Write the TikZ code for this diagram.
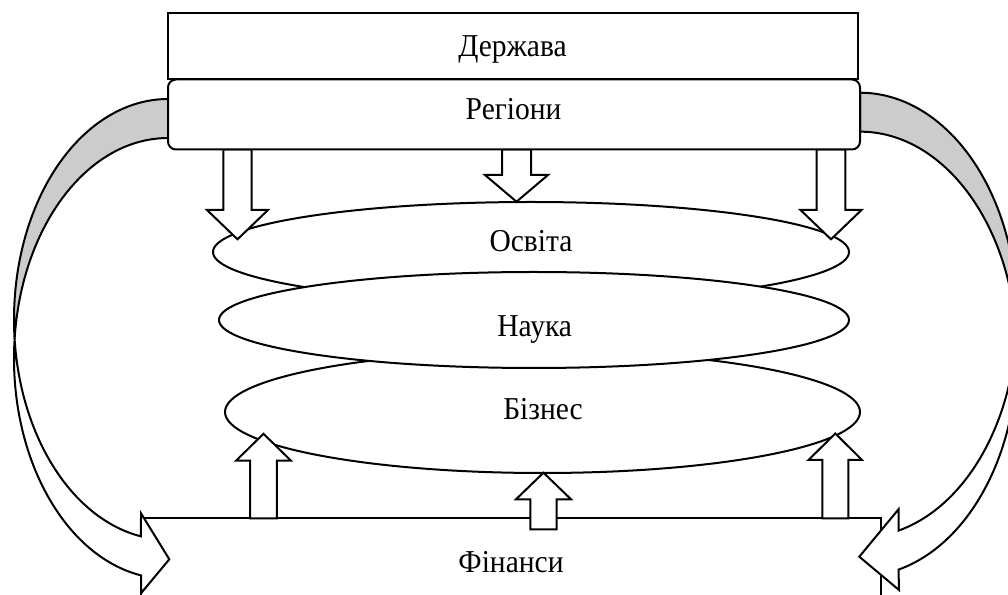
\documentclass[tikz,border=0pt]{standalone}
\usepackage{fontspec}
\usepackage{graphicx}
\setmainfont{Liberation Serif}
\usetikzlibrary{shapes.geometric}
\newcommand{\tallbox}[1]{\scalebox{1}[1.08]{#1}}
\begin{document}
\begin{tikzpicture}[x=1pt,y=1pt,line width=2pt,line join=miter,
  box/.style={draw,fill=white,inner sep=0pt,outer sep=0pt},
  oval/.style={draw,fill=white,ellipse,inner sep=0pt,outer sep=0pt},
  lbl/.style={anchor=base,inner sep=0pt,font=\fontsize{29.5}{34}\selectfont},
  blockarrow/.style={draw,fill=white},
  backband/.style={draw,fill=black!20}]
\useasboundingbox (0,0) rectangle (1008,594);

% Finance box
\node[box,minimum width=740pt,minimum height=96pt] (fin) at (511,27.7) {};

% left curved arrow
\draw[backband] (168,495) arc[start angle=90,end angle=185.08,x radius=154,y radius=220.4]
  arc[start angle=174.92,end angle=90,x radius=154,y radius=220.4] -- cycle;
\draw[blockarrow] (14.6,255.1) arc[start angle=185.08,end angle=259.9,x radius=154,y radius=220.4]
  -- (141,80.7) -- (169.3,34.7) -- (141,0.7) -- (141,18.6)
  arc[start angle=259.9,end angle=174.92,x radius=154,y radius=220.4] -- cycle;

% right curved arrow
\draw[backband] (860,501.3) arc[start angle=90,end angle=-5.02,x radius=157,y radius=222.7]
  arc[start angle=5.02,end angle=90,x radius=157,y radius=222.7] -- cycle;
\draw[blockarrow] (1016.4,259.8) arc[start angle=-5.02,end angle=-75.8,x radius=157,y radius=222.7]
  -- (898.5,84.7) -- (859.3,37.3) -- (899,4) -- (898.5,24.4)
  arc[start angle=-75.8,end angle=5.02,x radius=157,y radius=222.7] -- cycle;

% ellipses
\node[oval,minimum width=636pt,minimum height=100pt] (osv) at (531,342) {};
\node[oval,minimum width=635pt,minimum height=122pt] (biz) at (542.5,182) {};
\node[oval,minimum width=630pt,minimum height=96pt] (nau) at (534,274) {};

% up arrows
\draw[blockarrow] (250.2,75.7) -- (250.2,133.3) -- (236,133.3) -- (263.5,160.2) -- (291,133.3) -- (276.8,133.3) -- (276.8,75.7) -- cycle;
\draw[blockarrow] (530.3,64.7) -- (530.3,94.7) -- (516,94.7) -- (543.5,121.3) -- (571,94.7) -- (556.7,94.7) -- (556.7,64.7) -- cycle;
\draw[blockarrow] (822.3,75.7) -- (822.3,134) -- (808.5,134) -- (835.3,160.5) -- (862,134) -- (848.3,134) -- (848.3,75.7) -- cycle;

% down arrows
\draw[blockarrow] (223.3,444.5) -- (223.3,384) -- (207,384) -- (237.5,354.7) -- (268,384) -- (251.7,384) -- (251.7,444.5) -- cycle;
\draw[blockarrow] (502,444.5) -- (502,419) -- (485,419) -- (516.5,392.3) -- (548,419) -- (531,419) -- (531,444.5) -- cycle;
\draw[blockarrow] (816.7,444.5) -- (816.7,384) -- (800.5,384) -- (831,354.7) -- (861.5,384) -- (845.3,384) -- (845.3,444.5) -- cycle;

% top boxes
\node[box,minimum width=690pt,minimum height=66pt] (state) at (513,547.5) {};
\node[box,rounded corners=8pt,minimum width=692pt,minimum height=70pt] (reg) at (514,479.5) {};

% labels
\node[lbl] (t1) at (512.5,537) {\tallbox{Держава}};
\node[lbl] (t2) at (513.6,474) {\tallbox{Регіони}};
\node[lbl] (t3) at (531,342) {\tallbox{Освіта}};
\node[lbl] (t4) at (534.7,257) {\tallbox{Наука}};
\node[lbl] (t5) at (543,174) {\tallbox{Бізнес}};
\node[lbl] (t6) at (511,22) {\tallbox{Фінанси}};
\end{tikzpicture}
\end{document}
